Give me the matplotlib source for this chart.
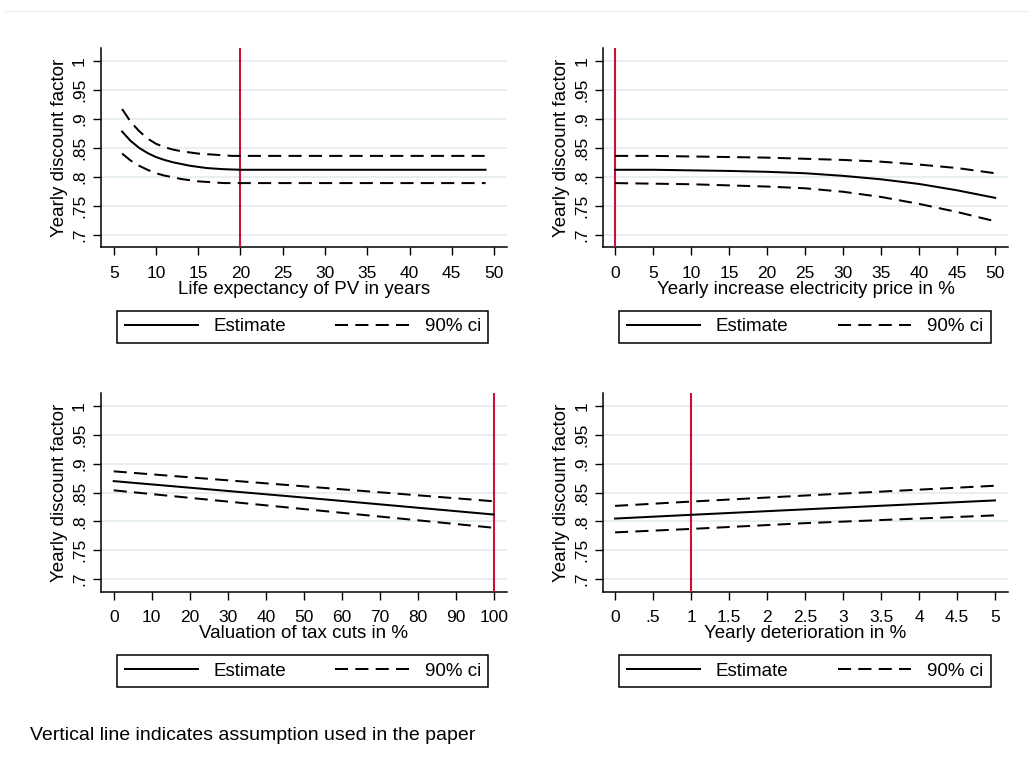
import matplotlib.pyplot as plt
from matplotlib.lines import Line2D

plt.rcParams['font.family'] = ['Liberation Sans', 'DejaVu Sans']

# panel 1: life expectancy of PV
life_x = [6, 7, 8, 9, 10, 11, 12, 13, 14, 15, 16, 17, 18, 19, 20, 49]
life_est = [0.878, 0.862, 0.850, 0.841, 0.834, 0.829, 0.825, 0.822, 0.819, 0.817,
            0.815, 0.814, 0.813, 0.8125, 0.812, 0.812]
life_hi = [0.917, 0.895, 0.879, 0.866, 0.857, 0.851, 0.847, 0.844, 0.842, 0.840,
           0.839, 0.838, 0.837, 0.836, 0.836, 0.836]
life_lo = [0.840, 0.828, 0.819, 0.812, 0.806, 0.802, 0.799, 0.796, 0.794, 0.792,
           0.791, 0.790, 0.789, 0.789, 0.789, 0.789]

# panel 2: yearly increase electricity price
elec_x = [0, 5, 10, 15, 20, 25, 30, 35, 40, 45, 50]
elec_est = [0.812, 0.812, 0.811, 0.810, 0.8085, 0.806, 0.8015, 0.7955, 0.7875, 0.7765, 0.7635]
elec_hi = [0.836, 0.836, 0.835, 0.834, 0.833, 0.831, 0.829, 0.826, 0.821, 0.815, 0.806]
elec_lo = [0.789, 0.788, 0.787, 0.785, 0.783, 0.780, 0.774, 0.765, 0.753, 0.739, 0.723]

# panel 3: valuation of tax cuts
tax_x = [0, 50, 100]
tax_est = [0.870, 0.8415, 0.812]
tax_hi = [0.887, 0.861, 0.835]
tax_lo = [0.854, 0.8215, 0.789]

# panel 4: yearly deterioration
det_x = [0, 1, 2.5, 5]
det_est = [0.805, 0.8115, 0.821, 0.8365]
det_hi = [0.827, 0.8345, 0.845, 0.862]
det_lo = [0.781, 0.787, 0.797, 0.8105]

yticks = [0.7, 0.75, 0.8, 0.85, 0.9, 0.95, 1.0]
ylabels = ['.7', '.75', '.8', '.85', '.9', '.95', '1']

panels = [
    dict(x=life_x, est=life_est, hi=life_hi, lo=life_lo, vline=20,
         xticks=list(range(5, 55, 5)), xticklabels=[str(v) for v in range(5, 55, 5)],
         xlim=(3.5, 51.5), xlabel='Life expectancy of PV in years'),
    dict(x=elec_x, est=elec_est, hi=elec_hi, lo=elec_lo, vline=0,
         xticks=list(range(0, 55, 5)), xticklabels=[str(v) for v in range(0, 55, 5)],
         xlim=(-1.55, 51.65), xlabel='Yearly increase electricity price in %'),
    dict(x=tax_x, est=tax_est, hi=tax_hi, lo=tax_lo, vline=100,
         xticks=list(range(0, 110, 10)), xticklabels=[str(v) for v in range(0, 110, 10)],
         xlim=(-3.35, 103.4), xlabel='Valuation of tax cuts in %'),
    dict(x=det_x, est=det_est, hi=det_hi, lo=det_lo, vline=1,
         xticks=[0, 0.5, 1, 1.5, 2, 2.5, 3, 3.5, 4, 4.5, 5],
         xticklabels=['0', '.5', '1', '1.5', '2', '2.5', '3', '3.5', '4', '4.5', '5'],
         xlim=(-0.155, 5.167), xlabel='Yearly deterioration in %'),
]

# axes rectangles in pixels (left, top, right, bottom)
W, H = 1029, 759
rects = [(101, 48, 506.7, 247.3), (603.3, 48, 1007.7, 247.3),
         (101, 393.3, 506.7, 591.7), (603.3, 393.3, 1007.7, 591.7)]

fig = plt.figure(figsize=(W / 100, H / 100), dpi=100)
fig.patch.set_facecolor('white')

red = '#c8123c'
grid_c = '#e6eef1'
lw = 1.45
dash = (0, (6.5, 3.6))

for p, (l, t, r, b) in zip(panels, rects):
    ax = fig.add_axes([l / W, 1 - b / H, (r - l) / W, (b - t) / H])
    for yt in yticks:
        ax.axhline(yt, color=grid_c, lw=1.3, zorder=0)
    ax.axvline(p['vline'], color=red, lw=1.5, zorder=3)
    ax.plot(p['x'], p['est'], color='black', lw=lw, label='Estimate', zorder=4)
    ax.plot(p['x'], p['hi'], color='black', lw=lw, ls=dash, label='90% ci', zorder=4)
    ax.plot(p['x'], p['lo'], color='black', lw=lw, ls=dash, zorder=4)

    ax.set_xlim(*p['xlim'])
    ax.set_ylim(0.678, 1.0225)
    ax.set_xticks(p['xticks'])
    ax.set_xticklabels(p['xticklabels'])
    ax.set_yticks(yticks)
    ax.set_yticklabels(ylabels, rotation=90, va='center')
    ax.tick_params(direction='out', length=5.5, width=1.0, labelsize=12.5,
                   colors='black')
    ax.tick_params(axis='x', pad=8)
    ax.tick_params(axis='y', pad=4.5)
    for s in ['top', 'right']:
        ax.spines[s].set_visible(False)
    for s in ['left', 'bottom']:
        ax.spines[s].set_linewidth(1.1)
    ax.set_xlabel(p['xlabel'], fontsize=13.5, labelpad=0)
    ax.set_ylabel('Yearly discount factor', fontsize=13.5, labelpad=3)

    # legend box below the axis
    lx0 = (l + 16.3 if l < 200 else l + 15.7)
    lx1 = (l + 387.3)
    bx = (lx0 - l) / (r - l)
    bw = (lx1 - lx0) / (r - l)
    by_top = (b - (b + 63.4)) / (b - t)
    leg = ax.legend(loc='upper left', bbox_to_anchor=(bx, by_top, bw, 0.0),
                    mode='expand', ncol=2, frameon=True, fancybox=False,
                    edgecolor='black', fontsize=13.5, handlelength=3.9,
                    handletextpad=0.85, borderpad=0.4, borderaxespad=0,
                    columnspacing=2.0)
    leg.get_frame().set_linewidth(1.1)
    leg.get_frame().set_alpha(None)
    leg.get_frame().set_facecolor('white')

fig.add_artist(Line2D([4 / W, 1], [1 - 11.3 / H, 1 - 11.3 / H], color='#eeeeee', lw=0.8))
fig.text(30 / W, 1 - 740 / H, 'Vertical line indicates assumption used in the paper',
         fontsize=14, va='baseline', ha='left')

fig.savefig('out.png', dpi=100, facecolor='white')
